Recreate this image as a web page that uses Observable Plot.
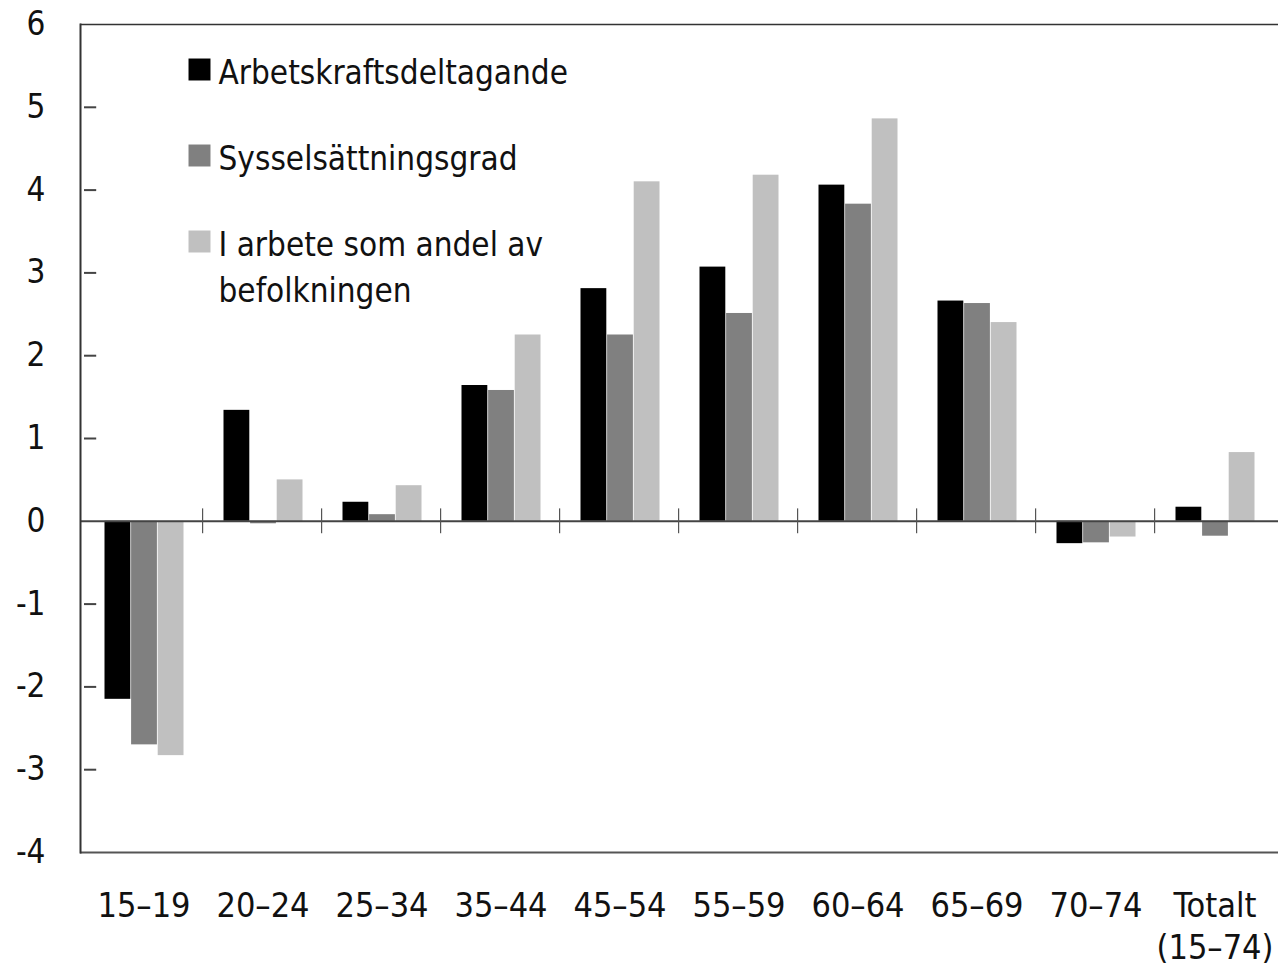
<!DOCTYPE html>
<html><head><meta charset="utf-8">
<script src="https://cdn.jsdelivr.net/npm/d3@7"></script>
<script src="https://cdn.jsdelivr.net/npm/@observablehq/plot@0.6"></script>
<style>
html,body{margin:0;padding:0;background:#fff;}
#chart svg{display:block;}
</style></head><body><div id="chart"></div>
<script>
const categories = ["15–19","20–24","25–34","35–44","45–54","55–59","60–64","65–69","70–74","Totalt\n(15–74)"];
const seriesNames = ["Arbetskraftsdeltagande","Sysselsättningsgrad","I arbete som andel av\nbefolkningen"];
const arbetskraft = [-2.15, 1.34, 0.23, 1.64, 2.81, 3.07, 4.06, 2.66, -0.27, 0.17];
const syssel      = [-2.70, -0.03, 0.08, 1.58, 2.25, 2.51, 3.83, 2.63, -0.26, -0.18];
const iArbete     = [-2.83, 0.50, 0.43, 2.25, 4.10, 4.18, 4.86, 2.40, -0.19, 0.83];
const yTicks = [6,5,4,3,2,1,0,-1,-2,-3,-4];
const colors = ["#000000","#808080","#c0c0c0"];

const seriesValues = [arbetskraft, syssel, iArbete];
const data = seriesNames.flatMap((s, si) => categories.map((c, ci) => ({category: c, series: s, si, value: seriesValues[si][ci]})));

const FONT = '"Liberation Sans Narrow", "DejaVu Sans Condensed", "Roboto Condensed", "Arial Narrow", sans-serif';
const W = 1278, H = 969, mL = 80, mR = 0, mT = 24, mB = 117;
const bw = (W - mL - mR) / categories.length;
const off = 20.5, barW = 26.6;
const legendY = [69, 155, 264];
const swatchY = [69, 155, 241];

const marks = [];
seriesNames.forEach((s, i) => {
  marks.push(Plot.barY(data.filter(d => d.si === i), {
    x: "category", y: "value", fill: colors[i],
    insetLeft: off + i * barW, insetRight: bw - off - (i + 1) * barW
  }));
});
marks.push(
  Plot.ruleY([0], {stroke: "#444", strokeWidth: 2}),
  Plot.ruleY([6], {stroke: "#333", strokeWidth: 1.5}),
  Plot.ruleY([-4], {stroke: "#555", strokeWidth: 2}),
  Plot.frame({anchor: "left", stroke: "#333", strokeWidth: 2}),
  Plot.barY(categories.slice(1), {x: d => d, y1: -0.15, y2: 0.15, fill: "#555", insetLeft: -1, insetRight: bw - 1}),
  Plot.tickY(yTicks.filter(t => t !== 6 && t !== -4 && t !== 0), {y: d => d, x: () => categories[0], stroke: "#444", strokeWidth: 2, insetRight: bw - 13}),
  Plot.axisY({ticks: yTicks, tickSize: 0, tickPadding: 35, fontSize: 33, tickFormat: d => String(d), fill: "#111"}),
  Plot.axisX({tickSize: 0, tickPadding: 34, fontSize: 34, lineHeight: 1.25, label: null, fill: "#111"})
);
seriesNames.forEach((s, i) => {
  marks.push(
    Plot.dot([s], {frameAnchor: "top-left", dx: 199 - mL, dy: swatchY[i] - mT, symbol: "square", r: 12.4, fill: colors[i]}),
    Plot.text([s], {text: d => d, frameAnchor: "top-left", dx: 218 - mL, dy: legendY[i] - mT, textAnchor: "start", lineAnchor: "middle", fontSize: 33, lineHeight: 46/33, fill: "#111"})
  );
});

const chart = Plot.plot({
  width: W, height: H,
  marginLeft: mL, marginRight: mR, marginTop: mT, marginBottom: mB,
  style: {fontFamily: FONT, fontStretch: "condensed", background: "#fff"},
  x: {domain: categories, padding: 0, label: null},
  y: {domain: [-4, 6], label: null},
  marks
});
document.getElementById("chart").append(chart);
</script>
</body></html>
